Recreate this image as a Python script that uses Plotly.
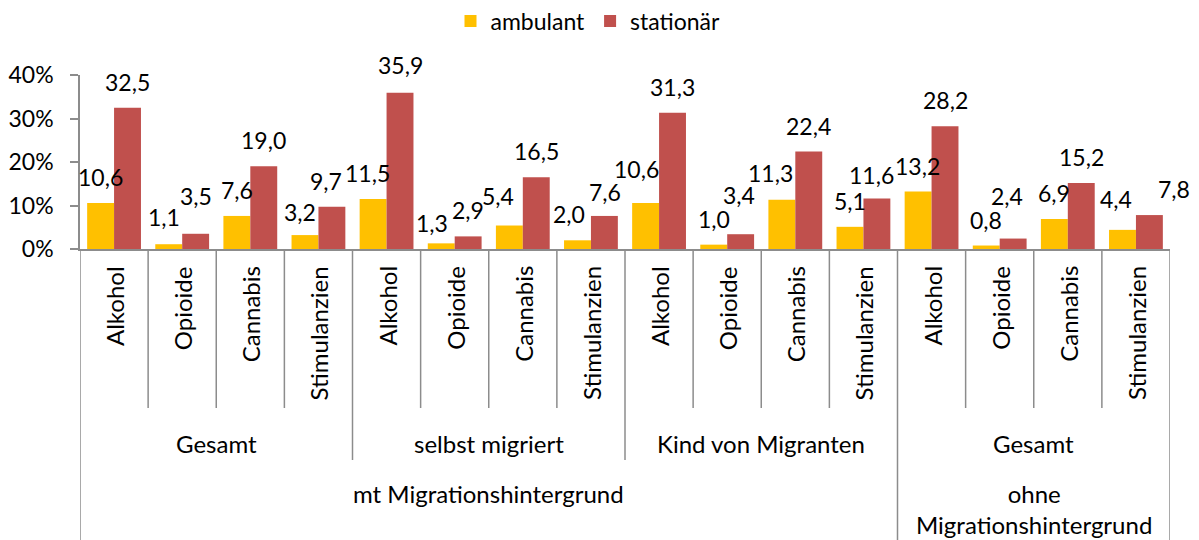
import plotly.graph_objects as go

substances = ["Alkohol", "Opioide", "Cannabis", "Stimulanzien"]
groups = ["Gesamt", "selbst migriert", "Kind von Migranten", "Gesamt"]
outer = ["mt Migrationshintergrund", "ohne<br>Migrationshintergrund"]
outer_span = [3, 1]  # number of groups per outer category
series_names = ["ambulant", "stationär"]
ambulant = [10.6, 1.1, 7.6, 3.2, 11.5, 1.3, 5.4, 2.0, 10.6, 1.0, 11.3, 5.1, 13.2, 0.8, 6.9, 4.4]
stationaer = [32.5, 3.5, 19.0, 9.7, 35.9, 2.9, 16.5, 7.6, 31.3, 3.4, 22.4, 11.6, 28.2, 2.4, 15.2, 7.8]
y_ticks = [0, 10, 20, 30, 40]
y_ticktext = ["0%", "10%", "20%", "30%", "40%"]
colors = ["#FFC000", "#C0504D"]

# manual label nudges (series index, category index) -> (dx px, extra dy px up)
label_nudge = {
    (0, 1): (-5, 1), (0, 3): (-5, -3), (0, 4): (-5, 0), (0, 5): (-9, -6),
    (0, 6): (-11, 4), (0, 7): (-8, 0), (0, 8): (-9, 8), (0, 10): (-11, 1),
    (0, 15): (-6, 5),
    (1, 1): (0, 12), (1, 3): (-6, 0), (1, 4): (0, 2), (1, 7): (0, -2), (1, 9): (-2, 13),
    (1, 11): (-6, -2), (1, 13): (-6, 17), (1, 15): (24, 0),
}

FONT = "Lato"
FS_TXT = 24
FS_NUM = 23
OFF = 8  # browser default body margin
W, H = 1199 - OFF, 540 - OFF
L, R, T, B = 80, 1170, 75, 249  # reference pixel coords of plot area
n = len(ambulant)
cats = list(range(n))


def py(px):
    return (B - px) / (B - T)


fig = go.Figure()
for name, vals, col in zip(series_names, [ambulant, stationaer], colors):
    fig.add_trace(go.Bar(x=cats, y=vals, name=name, marker=dict(color=col, line=dict(width=0)),
                         hoverinfo="y"))

# data labels
offsets = [-0.2, 0.2]
for si, (vals, off) in enumerate(zip([ambulant, stationaer], offsets)):
    for i, v in enumerate(vals):
        dx, dy = label_nudge.get((si, i), (0, 0))
        fig.add_annotation(x=i + off, y=v, xref="x", yref="y", text=f"{v:.1f}".replace(".", ","),
                           showarrow=False, yanchor="middle", yshift=26 + dy, xshift=dx,
                           font=dict(family=FONT, size=FS_NUM, color="#000"))

# category labels (rotated)
for i in cats:
    fig.add_annotation(x=i, y=py(264), xref="x", yref="paper", text=substances[i % 4],
                       textangle=-90, showarrow=False, yanchor="top", xanchor="center",
                       font=dict(family=FONT, size=FS_TXT, color="#000"))

# group labels
for g, gname in enumerate(groups):
    fig.add_annotation(x=g * 4 + 1.5, y=py(443), xref="x", yref="paper", text=gname,
                       showarrow=False, yanchor="middle",
                       font=dict(family=FONT, size=FS_TXT, color="#000"))

# outer labels
start = 0
for oname, span in zip(outer, outer_span):
    center = start * 4 + span * 4 / 2 - 0.5
    ypos = py(509) if "<br>" in oname else py(493)
    fig.add_annotation(x=center, y=ypos, xref="x", yref="paper", text=oname,
                       showarrow=False, yanchor="middle",
                       font=dict(family=FONT, size=FS_TXT, color="#000"))
    start += span

# divider lines
outer_bounds = {-0.5, n - 0.5}
s = 0
for span in outer_span:
    s += span
    outer_bounds.add(s * 4 - 0.5)
group_bounds = {g * 4 - 0.5 for g in range(len(groups) + 1)}
for k in range(n + 1):
    xb = k - 0.5
    if xb in outer_bounds:
        bottom = 541
    elif xb in group_bounds:
        bottom = 460
    else:
        bottom = 408
    fig.add_shape(type="line", xref="x", yref="paper", x0=xb, x1=xb, y0=py(B), y1=py(bottom),
                  line=dict(color="#8C8C8C", width=1.5))

fig.update_layout(
    width=W, height=H,
    margin=dict(l=L - OFF, r=(1199 - OFF) - (R - OFF), t=T - OFF, b=H - (B - OFF), autoexpand=False),
    barmode="group", bargap=0.21, bargroupgap=0,
    plot_bgcolor="white", paper_bgcolor="white",
    font=dict(family=FONT, size=FS_TXT, color="#000"),
    showlegend=True,
    legend=dict(orientation="h", xref="container", yref="container",
                x=(588 - OFF) / W, xanchor="center", y=1 - (21 - OFF) / H, yanchor="middle",
                font=dict(family=FONT, size=FS_NUM, color="#000"), itemwidth=30,
                traceorder="normal"),
    xaxis=dict(range=[-0.5, n - 0.5], showticklabels=False, showgrid=False, zeroline=False,
               showline=True, linecolor="#8C8C8C", linewidth=1.5, ticks=""),
    yaxis=dict(range=[0, 40], tickvals=y_ticks, ticktext=y_ticktext, showgrid=False, zeroline=False,
               showline=True, linecolor="#8C8C8C", linewidth=1.5, ticks="outside",
               ticklen=8, tickcolor="#8C8C8C", tickwidth=1.5, ticklabelstandoff=12,
               tickfont=dict(family=FONT, size=FS_NUM, color="#000")),
)

fig.write_html("out.html")
